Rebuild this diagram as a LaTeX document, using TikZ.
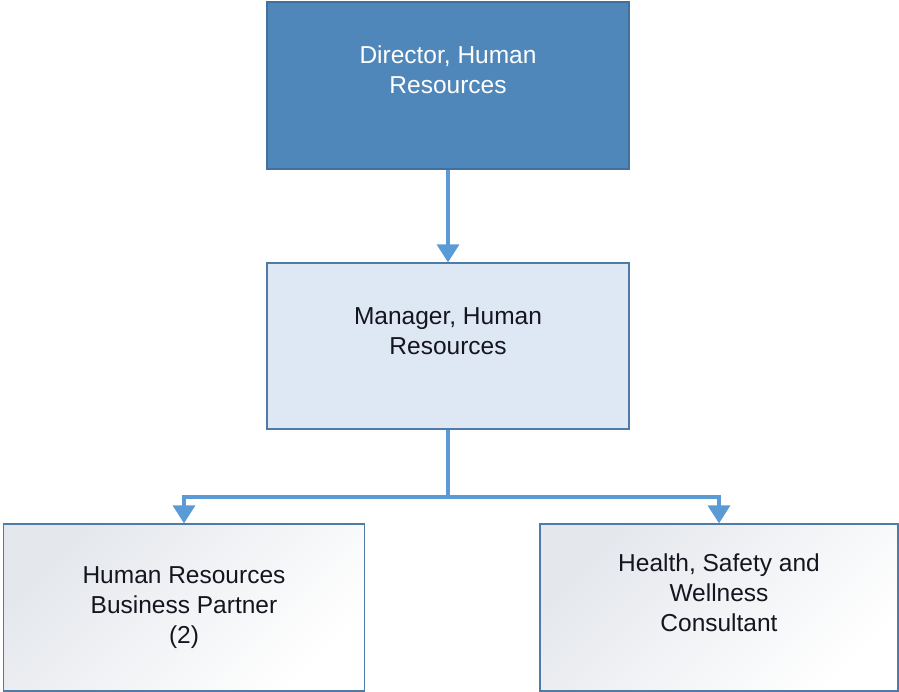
\documentclass[tikz,border=0pt]{standalone}
\usepackage{fontspec}
\setmainfont{Liberation Sans}
\usetikzlibrary{arrows.meta}
\definecolor{dirfill}{HTML}{4F87BA}
\definecolor{dirdraw}{HTML}{41709E}
\definecolor{mgrfill}{HTML}{DEE8F4}
\definecolor{boxdraw}{HTML}{4F7BA6}
\definecolor{conn}{HTML}{5B9BD5}
\definecolor{grad}{HTML}{E4E7EC}
\definecolor{txt}{HTML}{15151F}
\begin{document}
\begin{tikzpicture}[x=1pt,y=1pt,
  box/.style={draw=boxdraw, line width=1.2pt, rectangle, inner sep=0pt},
  lbl/.style={align=center, font=\fontsize{24.5}{30}\selectfont, text=txt},
  conn/.style={draw=conn, line width=3.4pt, -{Triangle[width=22pt,length=18pt]}}]
\useasboundingbox (0,0) rectangle (899,692);
\node[box, draw=dirdraw, fill=dirfill, minimum width=362pt, minimum height=167pt] (dir) at (448,606.5) {};
\node[box, fill=mgrfill, minimum width=362pt, minimum height=166pt] (mgr) at (448,346) {};
\node[box, shading=axis, top color=grad, bottom color=white, shading angle=45, minimum width=361pt, minimum height=167pt] (hrbp) at (184,84.5) {};
\node[box, shading=axis, top color=grad, bottom color=white, shading angle=45, minimum width=358pt, minimum height=167pt] (hsw) at (719,84.5) {};
\node[lbl, text=white] (tdir) at (448,622) {Director, Human\\Resources};
\node[lbl] (tmgr) at (448,361) {Manager, Human\\Resources};
\node[lbl] (thrbp) at (184,84.5) {Human Resources\\Business Partner\\(2)};
\node[lbl] (thsw) at (719,99) {Health, Safety and\\Wellness\\Consultant};
\coordinate (split) at (448,195);
\draw[conn] (dir.south) -- (mgr.north);
\draw[conn] (mgr.south) -- (split) -| (hrbp.north);
\draw[conn] (split) -| (hsw.north);
\end{tikzpicture}
\end{document}
